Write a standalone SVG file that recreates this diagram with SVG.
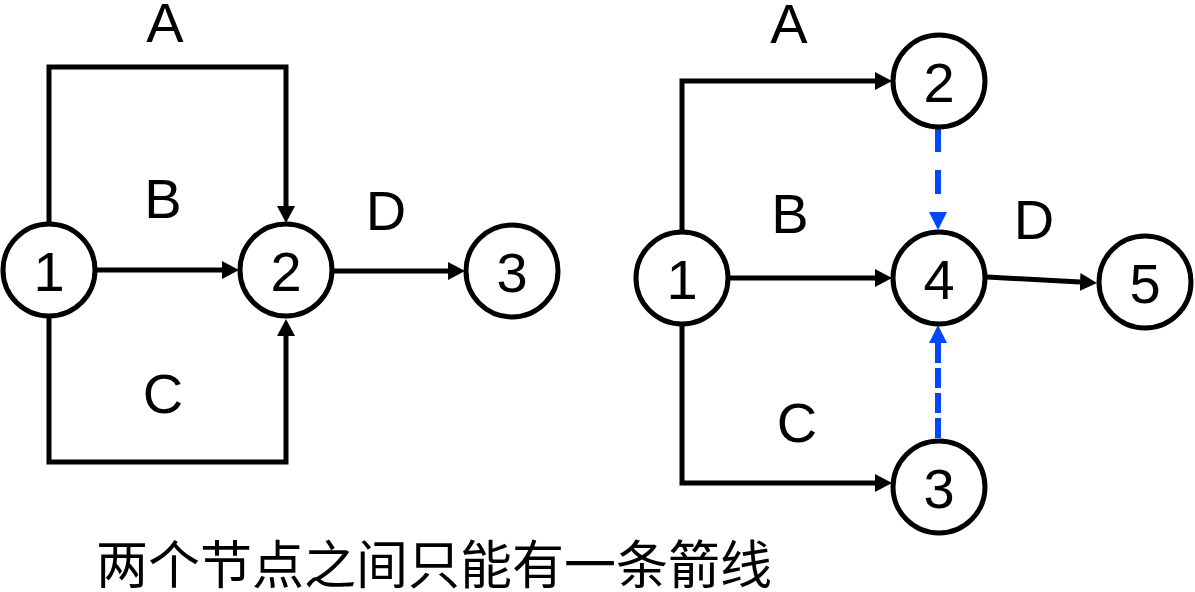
<svg xmlns="http://www.w3.org/2000/svg" width="1195" height="592" viewBox="0 0 1195 592">
  <style>
    .node { fill: #ffffff; stroke: #000000; stroke-width: 5; }
    .num { font-family: "Liberation Sans", Arial, sans-serif; font-size: 56px; text-anchor: middle; fill: #000000; }
    .lbl { font-family: "Liberation Sans", Arial, sans-serif; font-size: 56px; text-anchor: middle; fill: #000000; }
    .edge { fill: none; stroke: #000000; stroke-width: 5; marker-end: url(#arrowBlack); }
    .dummy { fill: none; stroke: #0047ff; stroke-width: 6; marker-end: url(#arrowBlue); }
    .note { font-family: "Noto Sans CJK SC", "Noto Sans CJK JP", sans-serif; font-size: 52px; fill: #000000; }
  </style>
  <defs>
    <marker id="arrowBlack" markerUnits="userSpaceOnUse" markerWidth="17" markerHeight="18" refX="0" refY="9" orient="auto">
      <path d="M0,0 L17,9 L0,18 Z" fill="#000000"/>
    </marker>
    <marker id="arrowBlue" markerUnits="userSpaceOnUse" markerWidth="18" markerHeight="18" refX="0" refY="9" orient="auto">
      <path d="M0,0 L18,9 L0,18 Z" fill="#0047ff"/>
    </marker>
  </defs>
  <rect width="1195" height="592" fill="#ffffff"/>

  <g id="connectors">
    <!-- left diagram -->
    <path id="L-A" class="edge" d="M49,224 V67 H286 V206"/>
    <path id="L-B" class="edge" d="M95,270 H222"/>
    <path id="L-C" class="edge" d="M49,317 V462 H286 V336"/>
    <path id="L-D" class="edge" d="M333,271 H448"/>
    <!-- right diagram -->
    <path id="R-A" class="edge" d="M682,232 V81 H875"/>
    <path id="R-B" class="edge" d="M729,278 H875"/>
    <path id="R-C" class="edge" d="M682,326 V483 H875"/>
    <path id="R-D" class="edge" d="M987,277 L1080,282"/>
    <path id="R-dummy1" class="dummy" d="M938,128 V212" stroke-dasharray="24 18"/>
    <path id="R-dummy2" class="dummy" d="M938,438 V343" stroke-dasharray="20 5"/>
  </g>

  <g id="edge-labels">
    <text class="lbl" x="165" y="42">A</text>
    <text class="lbl" x="163" y="218">B</text>
    <text class="lbl" x="163" y="413">C</text>
    <text class="lbl" x="386" y="230">D</text>
    <text class="lbl" x="789" y="43">A</text>
    <text class="lbl" x="790" y="233">B</text>
    <text class="lbl" x="797" y="442">C</text>
    <text class="lbl" x="1034" y="239">D</text>
  </g>

  <g id="L-n1"><circle class="node" cx="49" cy="270" r="46"/><text class="num" x="49" y="291">1</text></g>
  <g id="L-n2"><circle class="node" cx="286" cy="270" r="46"/><text class="num" x="286" y="291">2</text></g>
  <g id="L-n3"><circle class="node" cx="512" cy="271" r="46"/><text class="num" x="512" y="292">3</text></g>

  <g id="R-n1"><circle class="node" cx="682" cy="278" r="46"/><text class="num" x="682" y="299">1</text></g>
  <g id="R-n2"><circle class="node" cx="939" cy="81" r="46"/><text class="num" x="939" y="102">2</text></g>
  <g id="R-n4"><circle class="node" cx="939" cy="278" r="46"/><text class="num" x="939" y="299">4</text></g>
  <g id="R-n5"><circle class="node" cx="1145" cy="282" r="46"/><text class="num" x="1145" y="303">5</text></g>
  <g id="R-n3"><circle class="node" cx="939" cy="487" r="46"/><text class="num" x="939" y="508">3</text></g>

  <text class="note" x="96" y="584">两个节点之间只能有一条箭线</text>
</svg>
